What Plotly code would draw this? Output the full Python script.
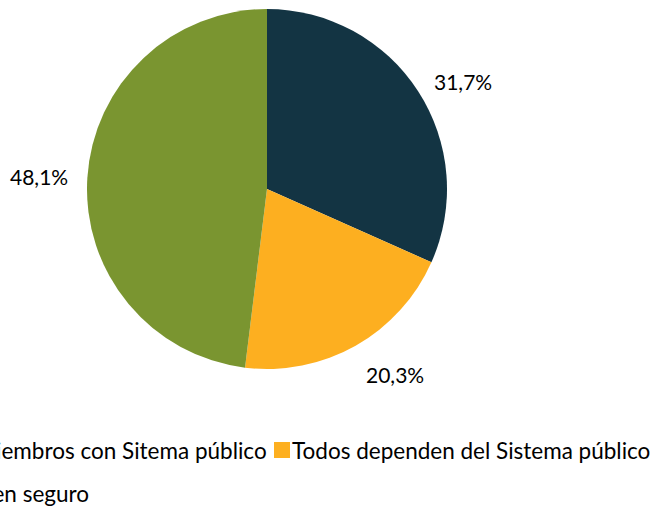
import math
import plotly.graph_objects as go

# Data
categories = [
    "Algunos miembros con Sitema público",
    "Todos dependen del Sistema público",
    "Todos tienen seguro",
]
values = [31.7, 20.3, 48.1]
colors = ["#133443", "#FDAF20", "#7A9530"]

W, H = 654, 507
CX, CY, R = 267, 189, 180  # pie centre / radius in pixels
FONT = "Lato, Calibri, Carlito, sans-serif"

fig = go.Figure(
    go.Pie(
        labels=categories,
        values=values,
        marker=dict(colors=colors, line=dict(width=0)),
        sort=False,
        direction="clockwise",
        rotation=0,
        textinfo="none",
        hoverinfo="label+value",
        domain=dict(x=[(CX - R) / W, (CX + R) / W], y=[1 - (CY + R) / H, 1 - (CY - R) / H]),
        showlegend=False,
    )
)

# Outside percentage labels anchored just outside each slice's mid-angle
total = sum(values)
cum = 0.0
annotations = []
label_r = 197
for v in values:
    mid = (cum + v / 2) / total * 2 * math.pi
    cum += v
    s, c = math.sin(mid), math.cos(mid)
    px = CX + label_r * s
    py = CY - label_r * c
    xanchor = "left" if s > 0.3 else ("right" if s < -0.3 else "center")
    yanchor = "bottom" if c > 0.7 else ("top" if c < -0.7 else "middle")
    annotations.append(dict(
        x=px / W, y=1 - py / H, xref="paper", yref="paper",
        text=f"{v:.1f}%".replace(".", ","), showarrow=False,
        font=dict(family=FONT, size=21, color="#000000"),
        xanchor=xanchor, yanchor=yanchor,
    ))

# Legend (drawn manually, left part falls outside the canvas as in the original)
shapes = []
legend_rows = [
    # (text right edge px, centre y px)
    (269, 450),
    (652, 450),
    (91, 493),
]
for (right_px, cy_px), name in zip(legend_rows, categories):
    annotations.append(dict(
        x=right_px / W, y=1 - cy_px / H, xref="paper", yref="paper",
        text=name, showarrow=False,
        font=dict(family=FONT, size=22.5, color="#000000"),
        xanchor="right", yanchor="middle",
    ))
# marker squares: orange one visible; others off-canvas to the left
marker_pos = [(-130, 450), (274, 450), (-130, 493)]
for (mx, my), col in zip(marker_pos, colors):
    shapes.append(dict(
        type="rect", xref="paper", yref="paper",
        x0=mx / W, x1=(mx + 16) / W, y0=1 - (my + 8) / H, y1=1 - (my - 8) / H,
        fillcolor=col, line=dict(width=0),
    ))

fig.update_layout(
    width=W, height=H,
    margin=dict(l=0, r=0, t=0, b=0, autoexpand=False),
    paper_bgcolor="white", plot_bgcolor="white",
    annotations=annotations, shapes=shapes,
    font=dict(family=FONT),
)

fig.write_html(
    "out.html",
    config={"displayModeBar": False},
    post_script="document.body.style.margin='0px';document.body.style.overflow='hidden';",
)
